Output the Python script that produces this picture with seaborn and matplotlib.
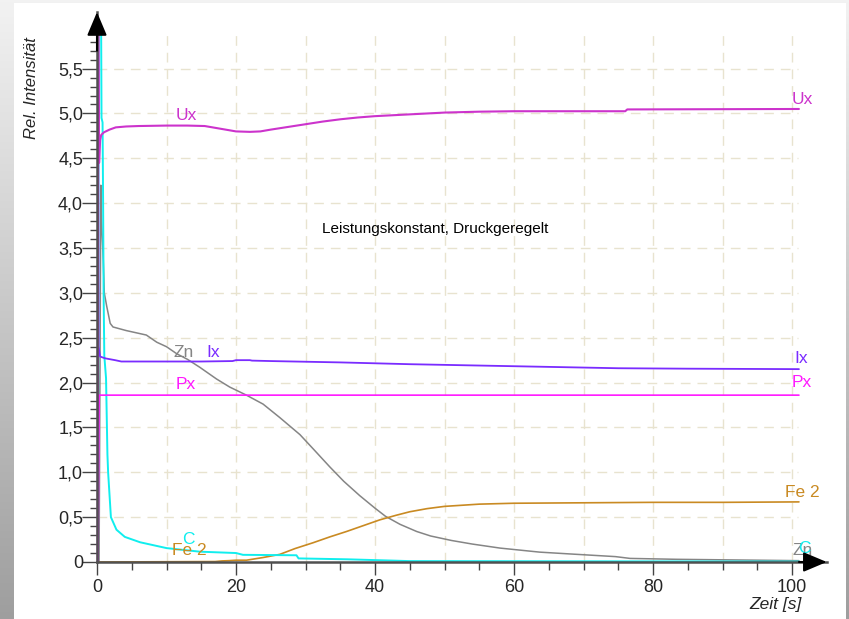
import numpy as np
import pandas as pd
import matplotlib
matplotlib.use("Agg")
import matplotlib.pyplot as plt
from matplotlib.patches import Rectangle
from matplotlib.ticker import FuncFormatter
import seaborn as sns

sns.set_theme(style="white")
plt.rcParams["font.family"] = ["Liberation Sans", "DejaVu Sans"]

# ---- measured series (time in s, relative intensity) ----
ux_t = [0.10, 0.18, 0.30, 0.45, 0.6, 1.0, 1.8, 2.7, 4.2, 6, 10, 13, 15.5, 17, 18.5,
        20, 22, 23.5, 25, 27.5, 30, 32.5, 35, 37.5, 40, 45, 50, 55, 60, 65, 70, 76,
        76.3, 101]
ux_v = [0, 5.9, 4.45, 4.70, 4.76, 4.79, 4.82, 4.845, 4.855, 4.86, 4.865, 4.865,
        4.86, 4.84, 4.82, 4.80, 4.795, 4.80, 4.82, 4.85, 4.88, 4.91, 4.935, 4.955,
        4.97, 4.99, 5.01, 5.02, 5.025, 5.025, 5.025, 5.025, 5.045, 5.05]

ix_t = [0.12, 0.16, 0.22, 0.45, 1.2, 2.6, 3.5, 10, 15, 19.5, 20, 22, 22.3, 25,
        35, 45, 55, 65, 75, 85, 101]
ix_v = [0, 5.9, 2.40, 2.29, 2.27, 2.25, 2.235, 2.235, 2.235, 2.24, 2.25, 2.25,
        2.245, 2.24, 2.225, 2.205, 2.19, 2.175, 2.16, 2.155, 2.15]

px_t = [0.15, 0.30, 101]
px_v = [0, 1.86, 1.86]

zn_t = [0.3, 0.55, 0.65, 0.9, 1.05, 1.4, 1.9, 2.3, 4.2, 7.1, 8.6, 10, 11.5, 13,
        14.8, 17.2, 19.1, 21.5, 23.9, 26.3, 29.2, 31, 33.5, 35.5, 37.8, 40, 41.5,
        43.6, 46, 48, 51, 54, 58, 63.7, 68, 74.6, 76.7, 83.4, 101]
zn_v = [0, 4.2, 3.8, 3.37, 3.0, 2.85, 2.66, 2.62, 2.58, 2.53, 2.45, 2.4, 2.32,
        2.26, 2.17, 2.04, 1.95, 1.86, 1.76, 1.61, 1.42, 1.27, 1.06, 0.9, 0.74,
        0.6, 0.51, 0.42, 0.34, 0.29, 0.24, 0.2, 0.155, 0.11, 0.09, 0.06, 0.04,
        0.03, 0.015]

c_t = [0.15, 0.22, 0.6, 0.65, 0.8, 0.88, 0.95, 1.05, 1.3, 1.5, 1.6, 2.0, 2.8,
       4.0, 6.2, 10, 14.8, 20, 21, 28.7, 29, 36, 45, 101]
c_v = [0, 5.9, 5.9, 4.95, 4.9, 4.0, 3.0, 2.3, 2.05, 1.2, 1.0, 0.5, 0.36, 0.28,
       0.22, 0.155, 0.115, 0.10, 0.08, 0.075, 0.04, 0.03, 0.01, 0.005]

fe_t = [0.3, 17, 18, 19, 20, 21.5, 23.9, 26.3, 28.5, 31.1, 33.5, 35.9, 38.3,
        40.7, 43, 45, 47.5, 50, 55, 60, 70, 80, 90, 101]
fe_v = [0, 0.005, 0.012, 0.015, 0.02, 0.02, 0.05, 0.085, 0.15, 0.215, 0.28,
        0.34, 0.405, 0.47, 0.52, 0.56, 0.595, 0.62, 0.645, 0.655, 0.66, 0.665,
        0.665, 0.67]

series = [
    # name, t, v, colour, width, start-label pos, end-label pos
    ("Zn", zn_t, zn_v, "#858585", 1.1, (12.4, 2.34), (100.0, 0.13)),
    ("Fe 2", fe_t, fe_v, "#c98a22", 1.2, (13.3, 0.13), (99.0, 0.78)),
    ("C", c_t, c_v, "#10eeee", 1.4, (13.1, 0.25), (100.9, 0.155)),
    ("Px", px_t, px_v, "#ff1aff", 1.2, (12.7, 1.98), (99.9, 2.0)),
    ("Ix", ix_t, ix_v, "#7a2cff", 1.3, (16.7, 2.34), (100.4, 2.27)),
    ("Ux", ux_t, ux_v, "#cc33cc", 1.5, (12.8, 4.98), (100.0, 5.16)),
]

y_major = [0, 0.5, 1.0, 1.5, 2.0, 2.5, 3.0, 3.5, 4.0, 4.5, 5.0, 5.5]
x_major = [0, 20, 40, 60, 80, 100]

W, H = 849, 619
fig = plt.figure(figsize=(W / 100, H / 100), dpi=100)

# backdrop around the white sheet
bg = fig.add_axes([0, 0, 1, 1], zorder=-5)
shade = np.linspace(0.95, 0.62, H)[:, None] * np.ones((1, W))
bg.imshow(np.dstack([shade] * 3), aspect="auto", extent=(0, 1, 0, 1))
bg.add_patch(Rectangle((14 / W, 0), 832 / W, 616 / H, facecolor="white",
                       edgecolor="none", transform=bg.transAxes))
bg.axis("off")

ax = fig.add_axes([97 / W, (H - 562) / H, 729.75 / W, 549.9 / H])
ax.set_facecolor("none")
ax.set_xlim(0, 105)
ax.set_ylim(0, 6.13)

# dashed grid, limited to the measured range
ax.hlines(y_major[1:], 0, 100.9, colors="#e8e3cf", linestyles=(0, (7, 5)),
          lw=1.0, zorder=0)
ax.vlines(np.arange(10, 101, 10), 0, 5.9, colors="#e8e3cf",
          linestyles=(0, (7, 5)), lw=1.0, zorder=0)

for name, t, v, col, lw, p0, p1 in series:
    df = pd.DataFrame({"t": t, "v": v})
    sns.lineplot(data=df, x="t", y="v", ax=ax, color=col, lw=lw,
                 estimator=None, sort=False, clip_on=False, zorder=3)
    ax.text(p0[0], p0[1], name, color=col, fontsize=12.5, ha="center",
            va="center", zorder=4)
    ax.text(p1[0], p1[1], name, color=col, fontsize=12.5, ha="left",
            va="center", zorder=4, clip_on=False)

ax.text(48.6, 3.71, "Leistungskonstant, Druckgeregelt", fontsize=11,
        ha="center", va="center", color="black")

# axes with arrow heads
for s in ["top", "right"]:
    ax.spines[s].set_visible(False)
for s in ["left", "bottom"]:
    ax.spines[s].set_color("#505050")
    ax.spines[s].set_linewidth(1.8)
    ax.spines[s].set_zorder(5)
arrow = dict(arrowstyle="-|>,head_length=0.9,head_width=0.38", color="black",
             lw=1.5, mutation_scale=16, shrinkA=0, shrinkB=0)
ax.annotate("", xy=(0, 6.13), xytext=(0, 5.7), arrowprops=arrow,
            annotation_clip=False, zorder=6)
ax.annotate("", xy=(105, 0), xytext=(101, 0), arrowprops=arrow,
            annotation_clip=False, zorder=6)

ax.set_xticks(x_major)
ax.set_xticks(np.arange(5, 101, 5), minor=True)
ax.set_yticks(y_major)
ax.set_yticks(np.arange(0.1, 5.95, 0.1), minor=True)
ax.yaxis.set_major_formatter(
    FuncFormatter(lambda v, p: "0" if v == 0 else f"{v:.1f}".replace(".", ",")))
ax.xaxis.set_major_formatter(FuncFormatter(lambda v, p: f"{v:.0f}"))
ax.tick_params(axis="y", which="major", direction="out", length=11, width=1,
               color="#444444", pad=-1, labelsize=13, left=True)
ax.tick_params(axis="y", which="minor", direction="out", length=5, width=1,
               color="#444444", left=True)
ax.tick_params(axis="x", which="major", direction="out", length=9, width=1,
               color="#444444", pad=3.5, labelsize=13, bottom=True)
ax.tick_params(axis="x", which="minor", direction="out", length=6, width=1,
               color="#444444", bottom=True)
ax.set_xlabel("")
ax.set_ylabel("")

fig.text(31 / W, 1 - 88 / H, "Rel. Intensität", rotation=90, style="italic",
         fontsize=12, ha="center", va="center")
fig.text(776 / W, 1 - 605 / H, "Zeit [s]", style="italic", fontsize=12.5,
         ha="center", va="center")

fig.savefig("out.png", dpi=100)
